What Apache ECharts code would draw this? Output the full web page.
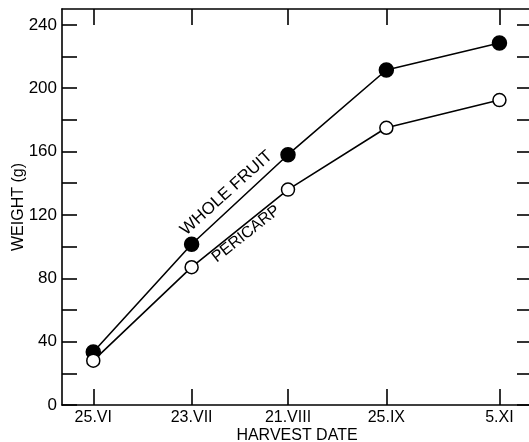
<!DOCTYPE html>
<html>
<head>
<meta charset="utf-8">
<script src="https://cdn.jsdelivr.net/npm/echarts@6/dist/echarts.min.js"></script>
<style>html,body{margin:0;padding:0;background:#fff;}#c{width:529px;height:442px;}</style>
</head>
<body>
<div id="c"></div>
<script>
// Harvest dates and their positions along the (irregularly spaced) date axis
const dateLabels = ['25.VI', '23.VII', '21.VIII', '25.IX', '5.XI'];
const datePos = [0, 1, 1.98, 2.98, 4.13];
// Weights (g)
const wholeFruit = [33.5, 101.5, 158, 211.5, 228.5];
const pericarp = [28, 87, 136, 175, 192.5];
// Y ticks
const yMinorTicks = [0, 20, 40, 60, 80, 100, 120, 140, 160, 180, 200, 220, 240];
const yLabels = [0, 40, 80, 120, 160, 200, 240];

const FONT = 'Liberation Sans, Arial, sans-serif';
const chart = echarts.init(document.getElementById('c'), null, {renderer: 'canvas'});

function pairs(ys) { return ys.map((v, i) => [datePos[i], v]); }
const lineW = 1.6;
const axisLineStyle = {color: '#000', width: lineW};

chart.setOption({
  animation: false,
  backgroundColor: '#fff',
  grid: {left: 62, top: 9, right: -3, bottom: 37, containLabel: false, outerBoundsMode: 'none'},
  xAxis: [
    {
      type: 'value', position: 'bottom', min: -0.318, max: 4.461,
      splitLine: {show: false},
      axisLine: {show: true, onZero: false, lineStyle: axisLineStyle},
      axisTick: {show: true, inside: true, length: 16, lineStyle: axisLineStyle, customValues: datePos},
      axisLabel: {
        show: true, margin: 5, color: '#000', fontSize: 16, fontFamily: FONT,
        customValues: datePos,
        formatter: v => { const i = datePos.indexOf(v); return i >= 0 ? dateLabels[i] : ''; }
      },
      name: 'HARVEST DATE', nameLocation: 'middle', nameGap: 23, nameMoveOverlap: false,
      nameTextStyle: {color: '#000', fontSize: 16, fontFamily: FONT}
    },
    {
      type: 'value', position: 'top', min: -0.318, max: 4.461,
      splitLine: {show: false},
      axisLine: {show: true, onZero: false, lineStyle: axisLineStyle},
      axisTick: {show: true, inside: true, length: 16, lineStyle: axisLineStyle, customValues: datePos},
      axisLabel: {show: false}
    }
  ],
  yAxis: [
    {
      type: 'value', position: 'left', min: 0, max: 250,
      splitLine: {show: false},
      axisLine: {show: true, onZero: false, lineStyle: axisLineStyle},
      axisTick: {show: true, inside: true, length: 15, lineStyle: axisLineStyle, customValues: yMinorTicks},
      axisLabel: {show: true, margin: 5, color: '#000', fontSize: 17, fontFamily: FONT, customValues: yLabels},
      name: 'WEIGHT (g)', nameLocation: 'middle', nameGap: 35, nameRotate: 90, nameMoveOverlap: false,
      nameTextStyle: {color: '#000', fontSize: 16, fontFamily: FONT}
    },
    {
      type: 'value', position: 'right', min: 0, max: 250,
      splitLine: {show: false},
      axisLine: {show: true, onZero: false, lineStyle: axisLineStyle},
      axisTick: {show: true, inside: true, length: 15, lineStyle: axisLineStyle, customValues: yMinorTicks},
      axisLabel: {show: false}
    }
  ],
  series: [
    {
      name: 'WHOLE FRUIT', type: 'line', data: pairs(wholeFruit),
      symbol: 'circle', symbolSize: 14,
      lineStyle: {color: '#000', width: lineW},
      itemStyle: {color: '#000', borderColor: '#000', borderWidth: 1.5},
      z: 3
    },
    {
      name: 'PERICARP', type: 'line', data: pairs(pericarp),
      symbol: 'circle', symbolSize: 13,
      lineStyle: {color: '#000', width: lineW},
      itemStyle: {color: '#fff', borderColor: '#000', borderWidth: 1.5},
      z: 3
    }
  ],
  graphic: [
    {
      type: 'text', x: 226.5, y: 193, rotation: 42 * Math.PI / 180,
      style: {text: 'WHOLE FRUIT', fill: '#000', font: '17px ' + FONT, align: 'center', verticalAlign: 'middle'}
    },
    {
      type: 'text', x: 246, y: 234, rotation: 38.4 * Math.PI / 180,
      style: {text: 'PERICARP', fill: '#000', font: '16px ' + FONT, align: 'center', verticalAlign: 'middle'}
    }
  ]
});
</script>
</body>
</html>
